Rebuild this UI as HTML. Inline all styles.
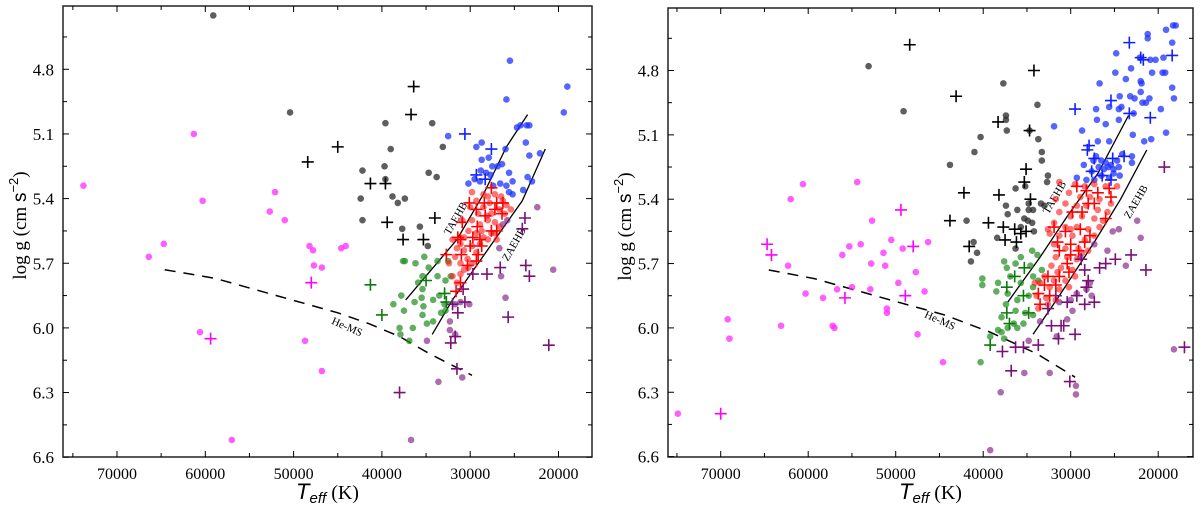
<!DOCTYPE html>
<html><head><meta charset="utf-8">
<style>
html,body{margin:0;padding:0;background:#fff;}
svg{display:block;font-family:"Liberation Serif",serif;}
</style></head>
<body>
<svg id="chart" width="1200" height="514" viewBox="0 0 1200 514" xmlns="http://www.w3.org/2000/svg"></svg>
<script>
// ---- data: [Teff in kK, log g] ----
const L_grayDots=[[59.1,4.55],[50.4,5.0],[39.6,5.05],[34.3,5.05],[33.1,5.16],[39.0,5.17],[39.7,5.25],[42.2,5.27],[39.6,5.31],[34.7,5.28],[33.8,5.30],[42.4,5.40],[38.8,5.39],[38.2,5.42],[37.4,5.40],[42.2,5.50],[37.7,5.54],[35.7,5.53],[34.8,5.62]];
const L_blackPlus=[[36.4,4.88],[36.7,5.01],[45.0,5.16],[48.4,5.23],[41.3,5.33],[39.6,5.33],[39.4,5.51],[34.0,5.49],[37.6,5.59],[35.3,5.59]];
const L_magDots=[[73.8,5.34],[61.3,5.10],[52.1,5.37],[60.3,5.41],[52.7,5.46],[51.0,5.50],[64.7,5.61],[66.4,5.67],[48.2,5.62],[47.8,5.64],[44.6,5.63],[44.1,5.62],[47.7,5.71],[46.8,5.72],[60.6,6.02],[48.7,6.06],[46.8,6.20],[57.0,6.52]];
const L_magPlus=[[48.0,5.79],[59.4,6.05]];
const L_blueDots=[[25.5,4.76],[19.0,4.88],[25.9,4.94],[19.4,5.0],[32.5,5.11],[28.7,5.14],[24.7,5.07],[24.3,5.06],[23.6,5.06],[23.3,5.06],[29.3,5.16],[26.0,5.17],[23.7,5.14],[23.3,5.2],[22.1,5.19],[28.7,5.22],[27.9,5.21],[27.5,5.25],[26.9,5.25],[26.4,5.24],[28.8,5.27],[28.2,5.28],[27.7,5.29],[25.6,5.28],[30.2,5.33],[27.4,5.34],[26.6,5.33],[25.9,5.34],[25.2,5.32],[23.5,5.30],[23.0,5.32],[25.6,5.37],[25.2,5.38],[24.0,5.36],[29.5,5.31],[28.9,5.32]];
const L_bluePlus=[[30.6,5.10],[27.6,5.17],[29.3,5.29],[28.3,5.31]];
const L_redDots=[[29.8,5.37],[28.5,5.38],[28.0,5.39],[27.2,5.38],[26.5,5.39],[26.3,5.41],[25.9,5.43],[25.4,5.45],[26.7,5.45],[27.6,5.47],[28.5,5.44],[29.1,5.47],[29.8,5.50],[28.9,5.52],[28.0,5.50],[27.2,5.51],[26.7,5.53],[27.6,5.56],[28.5,5.58],[29.3,5.56],[30.2,5.55],[30.7,5.58],[31.1,5.61],[31.5,5.63],[30.7,5.64],[29.8,5.62],[28.9,5.61],[28.0,5.59],[27.2,5.56],[31.7,5.67],[31.1,5.70],[30.7,5.73],[30.2,5.72],[32.0,5.76],[31.5,5.79],[31.1,5.75],[29.3,5.65],[28.7,5.55],[27.8,5.42],[26.1,5.47],[27.0,5.59],[32.0,5.59],[30.9,5.50],[30.0,5.44],[29.3,5.41],[28.1,5.48],[30.3,5.68],[29.8,5.70],[32.4,5.70]];
const L_redPlus=[[27.6,5.35],[30.1,5.42],[29.3,5.45],[28.4,5.42],[27.0,5.42],[26.3,5.42],[27.2,5.45],[26.4,5.47],[28.3,5.48],[29.2,5.53],[30.9,5.51],[27.6,5.55],[27.0,5.55],[29.7,5.58],[28.9,5.59],[31.4,5.58],[31.1,5.59],[30.0,5.62],[28.7,5.62],[32.7,5.66],[31.0,5.66],[29.1,5.66],[29.3,5.69],[30.3,5.71],[31.1,5.79],[31.6,5.83]];
const L_greenDots=[[37.6,5.69],[37.4,5.69],[36.2,5.70],[35.2,5.67],[33.7,5.69],[32.5,5.69],[34.7,5.72],[35.4,5.76],[33.7,5.76],[32.8,5.78],[32.2,5.76],[35.9,5.79],[35.4,5.82],[37.8,5.85],[36.3,5.88],[35.5,5.86],[38.7,5.89],[37.5,5.92],[35.3,5.90],[34.2,5.87],[33.5,5.85],[32.9,5.89],[35.4,5.94],[33.3,5.93],[34.9,5.98],[34.2,5.97],[38.0,6.0],[36.5,6.0],[37.9,6.03],[36.9,6.06],[32.8,5.92]];
const L_greenPlus=[[41.3,5.80],[40.0,5.94],[35.0,5.78],[32.9,5.84],[32.7,5.88]];
const L_purpDots=[[22.4,5.44],[25.8,5.50],[26.3,5.52],[26.7,5.63],[26.5,5.76],[26.0,5.86],[20.6,5.73],[30.1,5.89],[31.7,5.89],[31.1,5.88],[32.3,5.97],[32.3,6.01],[31.7,6.03],[34.9,6.06],[30.9,6.23],[33.6,6.25],[36.7,6.52]];
const L_purpPlus=[[23.8,5.49],[24.1,5.54],[29.7,5.75],[28.1,5.75],[26.6,5.72],[23.7,5.71],[23.3,5.76],[25.7,5.95],[30.8,5.82],[30.6,5.88],[32.0,5.89],[31.4,5.93],[31.7,6.04],[32.2,6.07],[21.1,6.08],[31.5,6.19],[38.0,6.30]];
const L_heMS=[[64.6,5.73],[58.9,5.77],[50.2,5.87],[45.0,5.93],[41.5,5.98],[38.0,6.04],[34.6,6.12],[29.8,6.22]];
const L_taehb=[[37.3,5.87],[31.5,5.59],[28.5,5.38],[25.9,5.16],[23.5,5.01]];
const L_zaehb=[[34.3,6.03],[32.0,5.87],[27.2,5.59],[24.1,5.41],[21.5,5.17]];

const R_grayDots=[[53.1,4.78],[49.1,4.99],[37.7,4.86],[37.4,5.01],[37.4,5.03],[37.3,5.08],[33.8,4.96],[34.7,5.08],[33.7,5.12],[40.3,5.11],[41.0,5.18],[43.8,5.24],[33.3,5.18],[33.3,5.22],[32.6,5.29],[32.7,5.32],[36.3,5.35],[35.2,5.34],[34.8,5.42],[33.4,5.42],[33.0,5.43],[37.4,5.43],[37.2,5.47],[36.1,5.45],[34.8,5.45],[34.3,5.45],[35.3,5.49],[34.9,5.50],[34.4,5.51],[41.9,5.50],[35.7,5.53],[34.2,5.55],[38.4,5.58],[41.1,5.60],[36.3,5.63],[40.7,5.65],[41.4,5.69]];
const R_blackPlus=[[48.4,4.68],[43.1,4.92],[34.2,4.80],[38.3,5.04],[34.7,5.08],[35.1,5.26],[35.3,5.32],[42.2,5.37],[38.2,5.38],[34.6,5.40],[43.8,5.50],[39.4,5.51],[37.7,5.53],[36.4,5.54],[35.1,5.55],[37.5,5.59],[36.2,5.60],[41.6,5.62],[35.7,5.56]];
const R_magDots=[[60.6,5.33],[54.4,5.32],[62.0,5.40],[52.7,5.50],[50.5,5.59],[55.3,5.62],[54.0,5.61],[46.3,5.60],[49.2,5.63],[56.1,5.66],[51.4,5.65],[62.3,5.71],[52.8,5.70],[51.2,5.71],[47.7,5.74],[49.7,5.79],[55.0,5.81],[56.7,5.82],[52.9,5.82],[46.7,5.83],[60.3,5.84],[58.3,5.86],[51.0,5.91],[51.0,5.93],[69.2,5.96],[63.1,5.99],[57.2,5.99],[57.0,6.0],[69.0,6.05],[47.5,6.03],[44.6,6.16],[74.9,6.40]];
const R_magPlus=[[64.7,5.61],[64.2,5.66],[49.4,5.45],[48.0,5.62],[55.8,5.86],[48.9,5.85],[70.0,6.40]];
const R_blueDots=[[18.3,4.59],[18.0,4.59],[21.2,4.63],[21.2,4.65],[19.1,4.61],[18.4,4.67],[24.8,4.72],[22.1,4.74],[20.9,4.75],[20.3,4.75],[19.4,4.74],[23.1,4.79],[24.9,4.81],[20.7,4.81],[19.5,4.81],[19.2,4.81],[23.7,4.84],[22.0,4.85],[21.9,4.86],[26.7,4.86],[18.4,4.88],[23.2,4.92],[24.4,4.92],[22.7,4.93],[22.0,4.90],[21.0,4.93],[18.2,4.93],[21.8,4.95],[21.4,4.95],[25.6,4.97],[24.5,4.98],[24.2,4.97],[27.1,4.98],[19.7,4.98],[22.8,5.00],[27.0,5.03],[24.5,5.03],[26.0,5.05],[31.9,5.06],[28.7,5.08],[22.9,5.10],[19.1,5.09],[21.6,5.13],[20.8,5.12],[26.9,5.13],[25.6,5.13],[27.1,5.20],[24.1,5.19],[23.0,5.20],[27.4,5.22],[26.5,5.22],[26.0,5.23],[25.4,5.24],[24.7,5.22],[28.5,5.24],[26.8,5.25],[26.2,5.26],[25.7,5.25],[23.0,5.23],[24.5,5.25],[25.1,5.26],[27.6,5.27],[26.5,5.29],[25.6,5.30],[24.4,5.29],[29.3,5.30],[28.2,5.31],[27.3,5.31],[25.1,5.28]];
const R_bluePlus=[[23.3,4.67],[22.0,4.74],[21.7,4.75],[18.4,4.73],[25.4,4.94],[29.5,4.98],[23.3,5.00],[20.9,5.02],[27.9,5.15],[28.1,5.17],[27.3,5.21],[25.2,5.21],[23.9,5.20],[27.6,5.27],[26.4,5.29],[25.4,5.31]];
const R_redDots=[[31.3,5.32],[29.5,5.33],[28.4,5.34],[27.3,5.33],[26.0,5.34],[24.7,5.34],[30.2,5.37],[28.9,5.39],[27.8,5.39],[26.7,5.40],[25.4,5.42],[30.6,5.42],[29.3,5.43],[28.2,5.43],[26.9,5.45],[25.8,5.46],[31.3,5.46],[30.0,5.48],[28.7,5.48],[27.3,5.49],[26.3,5.50],[31.9,5.51],[30.6,5.53],[29.3,5.53],[28.0,5.54],[26.7,5.53],[32.4,5.56],[31.3,5.57],[29.8,5.57],[28.4,5.59],[27.3,5.57],[31.9,5.61],[30.6,5.63],[29.1,5.63],[28.0,5.64],[31.7,5.67],[30.4,5.67],[29.3,5.68],[32.2,5.71],[31.1,5.72],[29.8,5.73],[33.0,5.76],[31.9,5.78],[30.6,5.78],[29.5,5.76],[33.5,5.79],[32.4,5.81],[31.3,5.82],[30.2,5.81],[33.9,5.85],[32.8,5.86],[31.7,5.87],[33.7,5.91],[32.6,5.89],[34.1,5.79],[31.5,5.74],[28.7,5.65],[30.0,5.54],[31.7,5.40],[32.6,5.54]];
const R_redPlus=[[29.3,5.34],[28.2,5.36],[26.9,5.37],[25.6,5.35],[25.4,5.39],[28.0,5.42],[27.3,5.42],[29.8,5.46],[28.7,5.46],[26.0,5.49],[31.9,5.53],[30.6,5.55],[28.9,5.54],[27.8,5.57],[31.5,5.60],[30.0,5.61],[28.4,5.60],[31.3,5.64],[30.0,5.66],[29.1,5.64],[30.4,5.70],[32.6,5.76],[31.3,5.76],[30.2,5.74],[33.0,5.80],[31.7,5.80],[33.7,5.84],[32.4,5.85],[33.5,5.89]];
const R_greenDots=[[34.4,5.64],[33.8,5.66],[35.7,5.67],[37.6,5.69],[36.3,5.70],[34.6,5.71],[33.3,5.73],[40.1,5.77],[37.3,5.72],[36.9,5.76],[34.3,5.76],[33.7,5.78],[38.3,5.79],[40.1,5.80],[35.7,5.79],[34.3,5.81],[38.5,5.83],[37.2,5.84],[36.1,5.87],[34.8,5.85],[37.4,5.89],[36.3,5.92],[35.2,5.93],[34.3,5.94],[37.9,5.95],[36.5,5.98],[35.4,5.98],[37.2,6.00],[36.1,6.00],[38.3,6.01],[37.9,6.02],[37.6,6.05],[40.3,6.16],[39.2,6.04]];
const R_greenPlus=[[36.4,5.76],[35.3,5.72],[37.3,5.81],[35.4,5.85],[37.3,5.93],[34.8,5.93],[37.0,5.98],[39.2,6.08]];
const R_purpDots=[[22.4,5.50],[22.0,5.58],[24.5,5.54],[25.2,5.55],[25.8,5.64],[23.7,5.71],[27.3,5.61],[28.9,5.67],[27.6,5.85],[29.8,5.92],[30.4,5.96],[29.3,5.84],[33.5,5.97],[31.6,6.04],[34.8,6.06],[35.3,6.21],[32.4,6.21],[29.4,6.27],[29.4,6.31],[38.0,6.30],[39.2,6.57],[18.2,6.10],[28.2,5.82],[27.8,5.79],[31.3,5.88],[30.0,5.87]];
const R_purpPlus=[[19.3,5.25],[23.1,5.66],[21.4,5.73],[24.9,5.68],[26.0,5.70],[26.7,5.72],[28.4,5.73],[28.0,5.78],[28.2,5.81],[27.3,5.88],[28.4,5.89],[29.3,5.85],[30.4,5.88],[31.7,5.85],[32.6,5.91],[31.1,5.99],[32.2,5.99],[30.8,5.99],[29.5,6.03],[31.4,6.05],[33.7,6.08],[35.4,6.09],[36.3,6.09],[37.8,6.11],[36.8,6.20],[30.1,6.25],[17.0,6.09],[28.8,5.68]];
const R_heMS=[[64.5,5.73],[59.3,5.77],[49.7,5.88],[44.4,5.94],[39.2,6.02],[33.9,6.12],[29.5,6.23]];
const R_taehb=[[37.2,5.88],[33.5,5.67],[30.4,5.48],[26.9,5.28],[23.4,5.01]];
const R_zaehb=[[34.3,6.03],[31.3,5.85],[27.3,5.60],[24.3,5.40],[21.3,5.17]];
const xTickLabels=[70000,60000,50000,40000,30000,20000];
const yTickLabels=[4.8,5.1,5.4,5.7,6.0,6.3,6.6];

const NS='http://www.w3.org/2000/svg';
const svg=document.getElementById('chart');
function mk(tag,attrs,parent){const e=document.createElementNS(NS,tag);for(const k in attrs)e.setAttribute(k,attrs[k]);(parent||svg).appendChild(e);return e;}

function panel(P,name){
  const g=mk('g',{});
  
  
  const X=t=>P.x70-(t-70)*P.kx;
  const Y=v=>P.y48+(v-4.8)*P.ky;
  const fr=mk('rect',{x:P.l,y:P.t,width:P.r-P.l,height:P.b-P.t,fill:'none',stroke:'#222','stroke-width':1.5},g);
  
  
  for(let t=75;t>=15;t-=5){const x=X(t);if(x<P.l+1||x>P.r-1)continue;const len=(t%10===0)?6:4;
    mk('line',{x1:x,x2:x,y1:P.b,y2:P.b-len,stroke:'#000','stroke-width':1},g);
    mk('line',{x1:x,x2:x,y1:P.t,y2:P.t+len,stroke:'#000','stroke-width':1},g);}
  xTickLabels.forEach(v=>{const tx=mk('text',{x:X(v/1000),y:P.b+22,'text-anchor':'middle','font-size':16},g);tx.textContent=v;
    
    });
  for(let v=4.65;v<=6.6001;v+=0.15){const y=Y(v);if(y<P.t+1)continue;const major=Math.abs(((v-4.8)/0.3)-Math.round((v-4.8)/0.3))<0.01;const len=major?6:4;
    mk('line',{x1:P.l,x2:P.l+len,y1:y,y2:y,stroke:'#000','stroke-width':1},g);
    mk('line',{x1:P.r,x2:P.r-len,y1:y,y2:y,stroke:'#000','stroke-width':1},g);}
  yTickLabels.forEach(v=>{const tx=mk('text',{x:P.l-9,y:Y(v)+6,'text-anchor':'end','font-size':17},g);tx.textContent=v.toFixed(1);
    
    });
  const yl=mk('text',{x:0,y:0,'font-size':19,'text-anchor':'middle',transform:`translate(${P.l-37},${(P.t+P.b)/2-6}) rotate(-90)`},g);
  yl.innerHTML='log g (cm <tspan font-family="Liberation Sans,sans-serif">s</tspan><tspan dy="-8" font-size="13" font-family="Liberation Sans,sans-serif">−2</tspan><tspan dy="8">)</tspan>';
  
  
  const xl=mk('text',{x:(P.l+P.r)/2,y:P.b+42,'font-size':20,'text-anchor':'middle'},g);
  xl.innerHTML='<tspan font-family="Liberation Sans,sans-serif" font-style="italic" font-size="22">T</tspan><tspan font-family="Liberation Sans,sans-serif" font-style="italic" font-size="15" dy="4">eff</tspan><tspan dy="-4"> (K)</tspan>';
  
  
  const pts=a=>a.map(p=>X(p[0]).toFixed(1)+','+Y(p[1]).toFixed(1)).join(' ');
  const he=mk('polyline',{points:pts(P.he),fill:'none',stroke:'#000','stroke-width':1.5,'stroke-dasharray':'11,8'},g);
  
  
  const ta=mk('polyline',{points:pts(P.ta),fill:'none',stroke:'#000','stroke-width':1.3},g);
  
  
  const za=mk('polyline',{points:pts(P.za),fill:'none',stroke:'#000','stroke-width':1.3},g);
  
  
  const lab=(txt,p,rot,nm)=>{const t=mk('text',{x:0,y:0,'font-size':11,'text-anchor':'middle',transform:`translate(${X(p[0])},${Y(p[1])}) rotate(${rot})`},g);t.textContent=txt;
    
    };
  lab('He-MS',P.heL,24,'he-ms-label');lab('TAEHB',P.taL,-60,'taehb-label');lab('ZAEHB',P.zaL,-60,'zaehb-label');
  const series=[[P.purpDots,'dot','rgba(128,30,128,0.65)'],[P.greenDots,'dot','rgba(30,140,30,0.7)'],[P.magDots,'dot','rgba(255,40,255,0.75)'],[P.grayDots,'dot','rgba(40,40,40,0.75)'],[P.blueDots,'dot','rgba(30,50,255,0.75)'],[P.redDots,'dot','rgba(255,20,20,0.6)'],
    [P.purpPlus,'plus','#7a117a'],[P.greenPlus,'plus','#0a7a0a'],[P.magPlus,'plus','#ff00ff'],[P.blackPlus,'plus','#000'],[P.bluePlus,'plus','#1020ff'],[P.redPlus,'plus','#ff0000']];
  series.forEach(([arr,kind,col])=>{arr.forEach(p=>{const x=X(p[0]),y=Y(p[1]);
    if(kind==='dot'){const c=mk('circle',{cx:x,cy:y,r:3.3,fill:col},g);
      
      }
    else{const pg=mk('path',{d:`M${x-6},${y}H${x+6}M${x},${y-6}V${y+6}`,stroke:col,'stroke-width':1.6,fill:'none'},g);
      
      }});});
}
panel({x70:117,kx:8.83,y48:69.3,ky:215.5,l:63,r:592,t:6,b:457,
  grayDots:L_grayDots,blackPlus:L_blackPlus,magDots:L_magDots,magPlus:L_magPlus,blueDots:L_blueDots,bluePlus:L_bluePlus,redDots:L_redDots,redPlus:L_redPlus,greenDots:L_greenDots,greenPlus:L_greenPlus,purpDots:L_purpDots,purpPlus:L_purpPlus,
  he:L_heMS,ta:L_taehb,za:L_zaehb,heL:[44.1,6.01],taL:[31.3,5.50],zaL:[24.7,5.62]},'left-panel');
panel({x70:720.7,kx:8.75,y48:70.5,ky:214.5,l:668,r:1193,t:8,b:457,
  grayDots:R_grayDots,blackPlus:R_blackPlus,magDots:R_magDots,magPlus:R_magPlus,blueDots:R_blueDots,bluePlus:R_bluePlus,redDots:R_redDots,redPlus:R_redPlus,greenDots:R_greenDots,greenPlus:R_greenPlus,purpDots:R_purpDots,purpPlus:R_purpPlus,
  he:R_heMS,ta:R_taehb,za:R_zaehb,heL:[45.1,5.98],taL:[31.5,5.40],zaL:[22.2,5.42]},'right-panel');
</script>
</body></html>
